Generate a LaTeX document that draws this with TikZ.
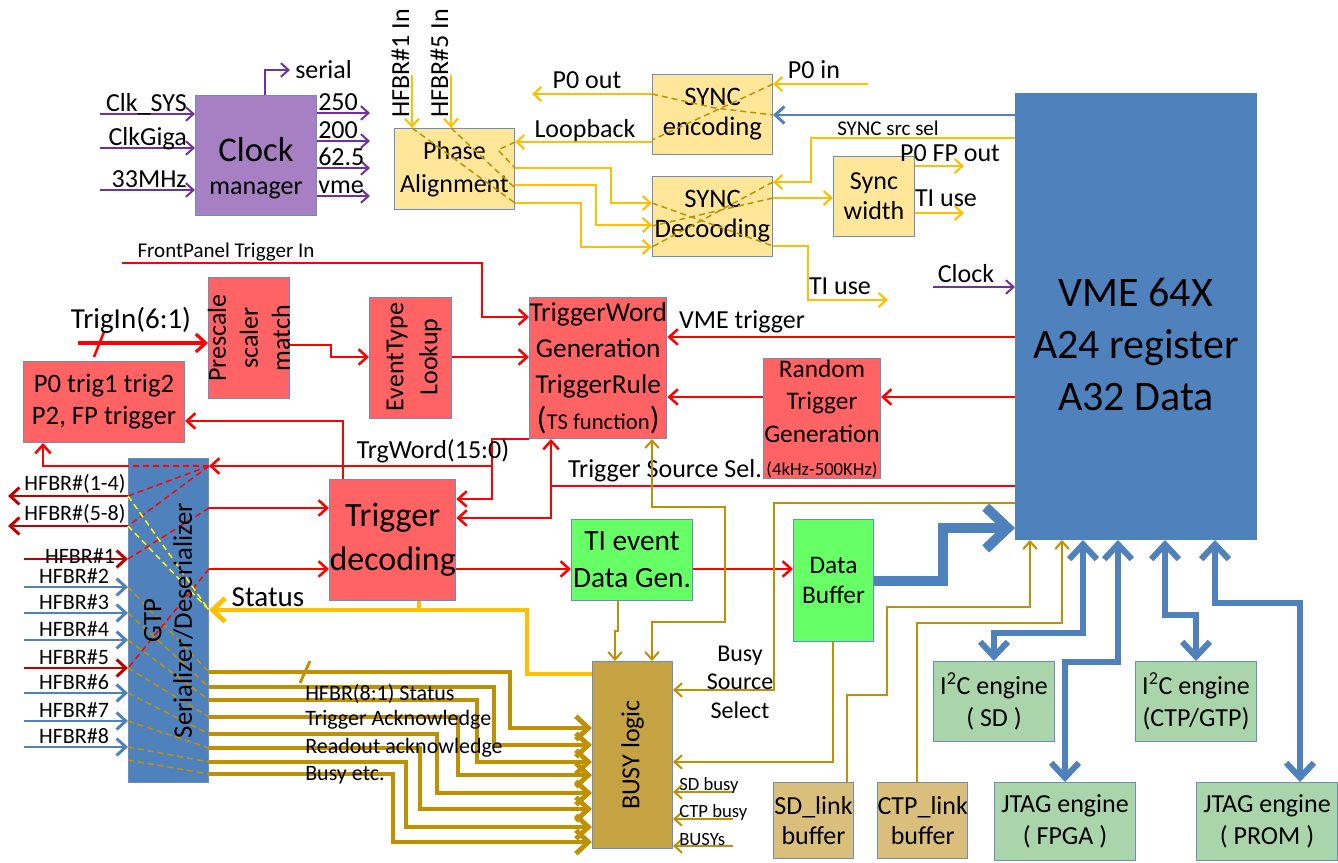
\documentclass[tikz,border=0pt]{standalone}
\usepackage{fontspec}
\setmainfont{Carlito}
\usetikzlibrary{arrows.meta}

\definecolor{cRed}{HTML}{FF0000}
\definecolor{cRedBox}{HTML}{FF6363}
\definecolor{cDRed}{HTML}{C00000}
\definecolor{cYel}{HTML}{FFC000}
\definecolor{cYelBox}{HTML}{FFE699}
\definecolor{cLemon}{HTML}{FFFF00}
\definecolor{cGold}{HTML}{BF9000}
\definecolor{cBusy}{HTML}{C6A342}
\definecolor{cTan}{HTML}{D9BF7B}
\definecolor{cGreen}{HTML}{66FF66}
\definecolor{cLtGreen}{HTML}{AAD5AA}
\definecolor{cBlue}{HTML}{4F81BD}
\definecolor{cBord}{HTML}{6C8EBF}
\definecolor{cPurp}{HTML}{7030A0}
\definecolor{cClk}{HTML}{A680C2}

\newcommand{\fVme}{\fontsize{31.5}{39}\selectfont}
\newcommand{\fClk}{\fontsize{26}{29}\selectfont}
\newcommand{\fBig}{\fontsize{25.5}{33}\selectfont}
\newcommand{\fBox}{\fontsize{19.5}{23.5}\selectfont}
\newcommand{\fLbl}{\fontsize{19.5}{23}\selectfont}
\newcommand{\fTrg}{\fontsize{21.75}{26}\selectfont}
\newcommand{\fHf}{\fontsize{16.5}{20}\selectfont}
\newcommand{\fSrc}{\fontsize{15.75}{19}\selectfont}
\newcommand{\fSm}{\fontsize{14}{17}\selectfont}

\begin{document}
\begin{tikzpicture}[
        x = 0.75pt, y = -0.75pt, % one unit = one pixel of the slide
        > = {Straight Barb[length=3pt 1.8, width=5pt 3.5]}, % open arrow head
        box/.style = {draw = cBord, line width = 0.75pt, inner sep = 0pt,
            anchor = north west, align = center, font = \fBox},
        sz/.style 2 args = {minimum width = #1*0.75pt, minimum height = #2*0.75pt},
        lbl/.style = {inner sep = 0pt, font = \fLbl},
        vtxt/.style = {rotate = 90, inner sep = 0pt, align = center, font = \fBox},
        redln/.style = {draw = cRed, line width = 1.9pt},
        dredln/.style = {draw = cDRed, line width = 2.2pt},
        yelln/.style = {draw = cYel, line width = 1.6pt},
        purpln/.style = {draw = cPurp, line width = 1.5pt},
        goldln/.style = {draw = cGold, line width = 1.5pt},
        busln/.style = {draw = cGold, line width = 3.6pt},
        statln/.style = {draw = cYel, line width = 3.6pt},
        blueln/.style = {draw = cBlue, line width = 4.5pt},
        xdash/.style = {dash pattern = on 4.5pt off 3pt, line width = 1.1pt}
    ]

    \path[fill = white] (0,0) rectangle (1338,863);
    \useasboundingbox (0,0) rectangle (1338,863);

    % blocks, top row
    \node[box, sz={121}{120}, fill=cClk] (clk) at (195,95) {};
    \node[align=center, inner sep=0pt, font=\fClk] (clktxt) at (256,168) {Clock\\[-4pt]{\fBox manager}};
    \node[box, sz={120}{81}, fill=cYelBox, font={\fontsize{19.5}{25}\selectfont}] (phase) at (394,128) {Phase\\Alignment};
    \node[box, sz={120}{80}, fill=cYelBox, font={\fontsize{20}{22.5}\selectfont}] (enc) at (652,74) {SYNC\\encoding};
    \node[box, sz={120}{80}, fill=cYelBox, font={\fontsize{20}{22.5}\selectfont}] (dec) at (652,176) {SYNC\\Decooding};
    \node[box, sz={81}{80}, fill=cYelBox, font={\fontsize{19.5}{22.5}\selectfont}] (swid) at (833,156) {Sync\\width};
    \node[box, sz={241}{446}, fill=cBlue, draw=cBlue] (vme) at (1015,93) {};
    \node[align=center, inner sep=0pt, font=\fVme] (vmetxt) at (1136,344) {VME 64X\\A24 register\\A32 Data};

    % blocks, trigger path
    \node[box, sz={137}{141}, fill=cRedBox, font={\fontsize{20.5}{27}\selectfont}] (trw) at (529,297)
        {TriggerWord\\Generation\\TriggerRule\\{\fontsize{24}{27}\selectfont(}{\fontsize{17}{27}\selectfont TS function}{\fontsize{24}{27}\selectfont)}};
    \node[box, sz={81}{121}, fill=cRedBox] (pre) at (208,277) {};
    \node[vtxt, font={\fontsize{19.5}{24}\selectfont}] (pretxt) at (pre.center) {Prescale\\scaler\\match};
    \node[box, sz={82}{121}, fill=cRedBox] (evt) at (369,297) {};
    \node[vtxt, font={\fontsize{19.5}{25.5}\selectfont}] (evttxt) at (414,357) {EventType\\Lookup};
    \node[box, sz={161}{81}, fill=cRedBox, font={\fontsize{20}{24}\selectfont}] (p0t) at (23,361) {P0 trig1 trig2\\P2, FP trigger};
    \node[box, sz={117}{120}, fill=cRedBox, font={\fontsize{19}{24.5}\selectfont}] (rnd) at (763,358)
        {Random\\Trigger\\Generation\\{\fSm (4kHz-500KHz)}};
    \node[box, sz={121}{121}, fill=cRedBox, font=\fBig] (tdec) at (329,479) {Trigger\\decoding};
    \node[box, sz={80}{324}, fill=cBlue] (gtp) at (128,458) {};

    % blocks, data and busy path
    \node[box, sz={121}{81}, fill=cGreen, font={\fontsize{22}{27.5}\selectfont}] (tiev) at (571,519) {TI event\\Data Gen.};
    \node[box, sz={80}{122}, fill=cGreen, font={\fontsize{19}{23}\selectfont}] (dbuf) at (793,519) {Data\\Buffer};
    \node[box, sz={80}{187}, fill=cBusy] (busy) at (592,661) {};
    \node[vtxt] (busytxt) at (busy.center) {BUSY logic};
    \node[box, sz={80}{76}, fill=cTan, font={\fontsize{19.5}{22.5}\selectfont}] (sdl) at (773,782) {SD\_link\\buffer};
    \node[box, sz={80}{76}, fill=cTan, font={\fontsize{19.5}{22.5}\selectfont}] (ctpl) at (877,782) {CTP\_link\\buffer};
    \node[box, sz={121}{80}, fill=cLtGreen, font={\fontsize{19.5}{24}\selectfont}] (i2csd) at (933,661) {I\textsuperscript{2}C engine\\( SD )};
    \node[box, sz={121}{80}, fill=cLtGreen, font={\fontsize{19.5}{24}\selectfont}] (i2cctp) at (1135,661) {I\textsuperscript{2}C engine\\(CTP/GTP)};
    \node[box, sz={141}{78}, fill=cLtGreen, font={\fontsize{19.5}{23.5}\selectfont}] (jfpga) at (994,782) {JTAG engine\\( FPGA )};
    \node[box, sz={141}{78}, fill=cLtGreen, font={\fontsize{19.5}{23.5}\selectfont}] (jprom) at (1196,782) {JTAG engine\\( PROM )};

    % clock manager paths
    \foreach \y/\t in {114/Clk\_SYS, 148/ClkGiga, 190/33MHz} {
        \coordinate (ckin-\y) at (100,\y);
        \draw[purpln,->] (ckin-\y) -- (clk.west |- ckin-\y);
        \node[lbl, anchor=base east] (lckin-\y) at (187,\y-2) {\t};
    }
    \foreach \y/\t in {113/250, 141/200, 168/62.5, 196/vme} {
        \coordinate (ckout-\y) at (370,\y);
        \draw[purpln,->] (clk.east |- ckout-\y) -- (ckout-\y);
        \node[lbl, anchor=base west] (lckout-\y) at (318,\y-2) {\t};
    }
    \coordinate (serial) at (290,70);
    \draw[purpln,->] (clk.north -| 265,0) |- (serial);
    \node[lbl, anchor=west] (lserial) at (295,70) {serial};

    % sync paths
    \coordinate (hfin1) at (412,75);
    \coordinate (hfin5) at (451,75);
    \draw[yelln,->] (hfin1) -- (phase.north -| hfin1);
    \draw[yelln,->] (hfin5) -- (phase.north -| hfin5);
    \node[lbl, rotate=90, anchor=base west] (lhfin1) at (409,118) {HFBR\#1 In};
    \node[lbl, rotate=90, anchor=base west] (lhfin5) at (448,118) {HFBR\#5 In};

    \coordinate (p0out) at (532,94);
    \draw[yelln,->] (enc.west |- p0out) -- (p0out);
    \node[lbl] (lp0out) at (587,80) {P0 out};
    \draw[yelln,->] (enc.west |- 0,142) -- (phase.east |- 0,142);
    \node[lbl] (lloop) at (585,131) {Loopback};
    \coordinate (p0in) at (868,84);
    \draw[yelln,->] (p0in) -- (enc.east |- p0in);
    \node[lbl] (lp0in) at (814,70) {P0 in};
    \draw[draw=cBlue, line width=2.2pt, ->] (vme.west |- 0,115) -- (enc.east |- 0,115);
    \draw[yelln,->] (vme.west |- 0,138) -| (811,182) -- (dec.east |- 0,182);
    \node[lbl, font=\fSrc] (lsrcsel) at (888,128) {SYNC src sel};

    \draw[yelln,->] (phase.east |- 0,168) -| (611,203) -- (dec.west |- 0,203);
    \draw[yelln,->] (phase.east |- 0,185) -| (596,225) -- (dec.west |- 0,225);
    \draw[yelln,->] (phase.east |- 0,203) -| (581,247) -- (dec.west |- 0,247);

    \draw[yelln,->] (dec.east |- 0,198) -- (swid.west |- 0,198);
    \coordinate (p0fp) at (964,166);
    \coordinate (tiuse1) at (964,213);
    \draw[yelln,->] (swid.east |- p0fp) -- (p0fp);
    \draw[yelln,->] (swid.east |- tiuse1) -- (tiuse1);
    \node[lbl] (lp0fp) at (950,153) {P0 FP out};
    \node[lbl] (ltiuse1) at (946,198) {TI use};
    \coordinate (tiuse2) at (888,300);
    \draw[yelln,->] (dec.east |- 0,246) -| (808,300) -- (tiuse2);
    \node[lbl] (ltiuse2) at (840,286) {TI use};
    \coordinate (clkin) at (933,287);
    \draw[purpln,->] (clkin) -- (vme.west |- clkin);
    \node[lbl] (lclkin) at (966,274) {Clock};

    % dashed wiring inside the sync blocks
    \draw[cGold, xdash] (phase.north -| hfin1) -- (phase.east |- 0,203);
    \draw[cGold, xdash] (phase.north -| hfin5) -- (phase.east |- 0,188);
    \draw[cGold, xdash] (phase.east |- 0,142) -- (498,150) -- (phase.east |- 0,168);
    \draw[cGold, xdash] (enc.east |- p0in) -- (enc.west |- 0,140);
    \draw[cGold, xdash] (enc.west |- p0out) -- (715,108) -- (enc.east |- 0,115);
    \draw[cGold, xdash] (dec.east |- 0,182) -- (dec.west |- 0,247);
    \draw[cGold, xdash] (dec.west |- 0,203) -- (dec.east |- 0,246);
    \draw[cGold, xdash] (dec.east |- 0,198) -- (dec.west |- 0,226);

    % trigger paths
    \coordinate (fpin) at (122,263);
    \draw[redln,->] (fpin) -| (482,317) -- (trw.west |- 0,317);
    \node[lbl, font=\fSrc] (lfpin) at (226,252) {FrontPanel Trigger In};
    \coordinate (trgin) at (78,343);
    \draw[redln, line width=2.4pt, ->] (trgin) -- (pre.west |- trgin);
    \draw[redln] (94,357) -- (104,332);
    \node[lbl, font=\fTrg] (ltrgin) at (131,320) {TrigIn(6:1)};
    \draw[redln,->] (pre.east |- 0,345) -| (331,357) -- (evt.west |- 0,357);
    \draw[redln,->] (evt.east |- 0,357) -- (trw.west |- 0,357);
    \draw[redln,->] (vme.west |- 0,337) -- (trw.east |- 0,337);
    \node[lbl] (lvmetrg) at (742,322) {VME trigger};
    \draw[redln,->] (vme.west |- 0,397) -- (rnd.east |- 0,397);
    \draw[redln,->] (rnd.west |- 0,397) -- (trw.east |- 0,397);

    \draw[redln,->] (vme.west |- 0,486) -| (trw.south -| 551,0);
    \coordinate (tss) at (551,486);
    \draw[redln,->] (tss) |- (tdec.east |- 0,518);
    \node[lbl] (ltss) at (665,471) {Trigger Source Sel.};

    \draw[redln,->] (trw.south west) -| (492,499) -- (tdec.east |- 0,499);
    \coordinate (twb) at (492,466);
    \draw[redln,->] (twb) -- (gtp.east |- twb);
    \node[lbl] (ltw) at (433,451) {TrgWord(15:0)};
    \draw[redln,->] (tdec.north -| 343,0) |- (p0t.east |- 0,421);
    \draw[redln,->] (gtp.west |- 0,466) -| (p0t.south -| 43,0);

    % GTP links
    \coordinate (hout1) at (8,496);
    \coordinate (hout5) at (8,526);
    \draw[dredln,->] (gtp.west |- hout1) -- (hout1);
    \draw[dredln,->] (gtp.west |- hout5) -- (hout5);
    \node[lbl, font=\fHf] (lhout1) at (75,484) {HFBR\#(1-4)};
    \node[lbl, font=\fHf] (lhout5) at (75,514) {HFBR\#(5-8)};
    \foreach \i/\y/\c/\lx/\ly in {1/559/cDRed/80/556, 2/587/cBlue/74/576, 3/613/cBlue/74/602,
            4/640/cBlue/74/629, 5/668/cDRed/74/657, 6/693/cBlue/74/682, 7/721/cBlue/74/710, 8/747/cBlue/74/736} {
        \coordinate (hin\i) at (24,\y);
        \draw[draw=\c, line width=2.2pt, ->] (hin\i) -- (gtp.west |- hin\i);
        \node[lbl, font=\fHf] (lhin\i) at (\lx,\ly) {HFBR\#\i};
    }
    \draw[redln,->] (gtp.east |- 0,508) -- (tdec.west |- 0,508);
    \draw[redln,->] (gtp.east |- 0,569) -- (tdec.west |- 0,569);

    % dashed wiring inside the GTP
    \foreach \a/\b in {587/672, 613/687, 640/700, 668/717, 693/734, 721/748, 747/762, 760/774} {
        \draw[cGold, xdash] (gtp.west |- 0,\a) -- (gtp.east |- 0,\b);
    }
    \draw[cRed, xdash] (gtp.east |- 0,466) -- (gtp.west |- 0,466);
    \draw[cRed, xdash] (gtp.east |- 0,466) -- (gtp.west |- hout1);
    \draw[cRed, xdash] (gtp.east |- 0,466) -- (gtp.west |- hout5);
    \draw[cRed, xdash] (gtp.east |- 0,508) -- (gtp.west |- hin1);
    \draw[cRed, xdash] (gtp.east |- 0,569) -- (gtp.west |- hin5);
    \draw[cLemon, xdash] (gtp.west |- hout1) -- (gtp.east |- 0,610);
    \draw[cLemon, xdash] (gtp.west |- hout5) -- (gtp.east |- 0,610);
    \node[vtxt, font={\fontsize{20}{23}\selectfont}] (gtptxt) at (gtp.center) {GTP\\Serializer/Deserializer};

    % status and busy paths
    \draw[statln,->] (busy.west |- 0,674) -| (527,610) -- (gtp.east |- 0,610);
    \coordinate (stj) at (419,610);
    \draw[statln] (tdec.south -| stj) -- (stj);
    \node[lbl, font=\fTrg] (lstatus) at (268,597) {Status};

    \foreach \ya/\xb/\yb in {672/510/728, 687/494/745, 700/477/762, 717/458/775,
            734/437/793, 748/420/809, 762/406/827, 774/393/842} {
        \draw[busln,->] (gtp.east |- 0,\ya) -| (\xb,\yb) -- (busy.west |- 0,\yb);
    }
    \draw[busln, line width=2.2pt] (300,683) -- (310,661);
    \node[lbl, font=\fHf, anchor=west] (lbus1) at (305,694) {HFBR(8:1) Status};
    \node[lbl, font=\fHf, anchor=west] (lbus2) at (305,720) {Trigger Acknowledge};
    \node[lbl, font=\fHf, anchor=west] (lbus3) at (305,748) {Readout acknowledge};
    \node[lbl, font=\fHf, anchor=west] (lbus4) at (305,775) {Busy etc.};

    % data path
    \draw[redln,->] (tdec.east |- 0,569) -- (tiev.west |- 0,569);
    \draw[redln,->] (tiev.east |- 0,569) -- (dbuf.west |- 0,569);
    \draw[blueln, line width=7.5pt, ->] (dbuf.east |- 0,581) -| (943,528) -- (vme.west |- 0,528);
    \draw[goldln,->] (tiev.south -| 618,0) -- ++(0,30) -| (busy.north -| 615,0);
    \draw[goldln,<->] (trw.south -| 652,0) |- (725,507) |- (652,622) -- (busy.north -| 652,0);
    \draw[goldln,->] (vme.west |- 0,503) -| (774,690) -- (busy.east |- 0,690);
    \node[lbl, align=center, font={\fontsize{18}{21.4}\selectfont}] (lbss) at (740,682) {Busy\\Source\\Select};
    \draw[goldln,->] (dbuf.south -| 833,0) |- (busy.east |- 0,762);
    \foreach \y/\t in {792/SD busy, 819/CTP busy, 846/BUSYs} {
        \coordinate (bsy-\y) at (733,\y);
        \draw[goldln,->] (bsy-\y) -- (busy.east |- bsy-\y);
        \node[lbl, font=\fSm, anchor=west] (lbsy-\y) at (679,\y-6) {\t};
    }

    % link buffers to VME
    \draw[goldln,->] (sdl.north -| 847,0) |- (887,695) |- (1030,607) -- (vme.south -| 1030,0);
    \draw[goldln,->] (ctpl.north -| 917,0) |- (1062,623) -- (vme.south -| 1062,0);

    % VME to engines
    \draw[blueln,<->] (vme.south -| 1083,0) |- (994,633) -- (i2csd.north -| 994,0);
    \draw[blueln,<->] (vme.south -| 1118,0) |- (1065,662) -- (jfpga.north -| 1065,0);
    \draw[blueln,<->] (vme.south -| 1165,0) |- (1196,615) -- (i2cctp.north -| 1196,0);
    \draw[blueln,<->] (vme.south -| 1215,0) |- (1300,603) -- (jprom.north -| 1300,0);

\end{tikzpicture}
\end{document}
